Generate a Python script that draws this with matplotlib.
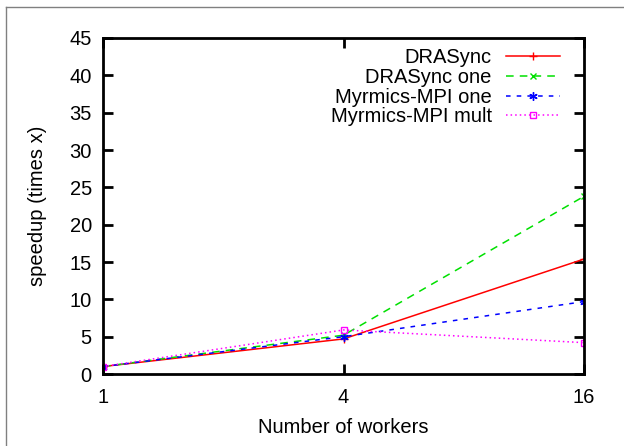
import matplotlib.pyplot as plt
from matplotlib.lines import Line2D

plt.rcParams['font.family'] = ['Liberation Sans', 'DejaVu Sans']

workers = [1, 4, 16]
drasync = [1.0, 4.7, 15.4]
drasync_one = [1.0, 5.2, 23.8]
myrmics_one = [1.0, 5.0, 9.7]
myrmics_mult = [1.0, 5.9, 4.2]

fs = 14.5

fig = plt.figure(figsize=(6.24, 4.46), dpi=100)
ax = fig.add_axes([0.165, 0.1614, 0.771, 0.7534])

ax.plot(workers, drasync, color='#ff0000', lw=1.1, marker='+', ms=6, mew=1,
        label='DRASync')
ax.plot(workers, drasync_one, color='#00e000', lw=1.1, ls=(0, (5, 4)),
        marker='x', ms=5, mew=1, label='DRASync one')
ax.plot(workers, myrmics_one, color='#0000ff', lw=1.1, ls=(0, (3, 4)),
        marker=(6, 2, 0), ms=6, mew=1, label='Myrmics-MPI one')
ax.plot(workers, myrmics_mult, color='#ff00ff', lw=1.1, ls=(0, (1, 2)),
        marker='s', ms=5, mew=1, mfc='none', label='Myrmics-MPI mult')

ax.set_xscale('log', base=2)
ax.set_xlim(1, 16)
ax.set_ylim(0, 45)
ax.set_xticks(workers)
ax.set_xticklabels([str(w) for w in workers])
ax.minorticks_off()
ax.set_yticks(range(0, 46, 5))

for s in ax.spines.values():
    s.set_linewidth(2)
ax.tick_params(direction='in', length=7, width=2, labelsize=fs,
               top=True, right=True, pad=10)
ax.tick_params(axis='y', pad=8)

ax.set_xlabel('Number of workers', fontsize=fs, labelpad=8)
ax.set_ylabel('speedup (times x)', fontsize=fs, labelpad=16)

ax.legend(loc='upper right', frameon=False, markerfirst=False,
          fontsize=fs, handlelength=2.7, labelspacing=0.04,
          handletextpad=0.7, borderaxespad=0.3, bbox_to_anchor=(0.98, 1.012))

# thin grey page border
fig.add_artist(Line2D([6 / 624, 6 / 624], [0, 1 - 7 / 446], color='#808080', lw=1))
fig.add_artist(Line2D([6 / 624, 1], [1 - 7 / 446, 1 - 7 / 446], color='#808080', lw=1))

fig.savefig('out.png', dpi=100)
